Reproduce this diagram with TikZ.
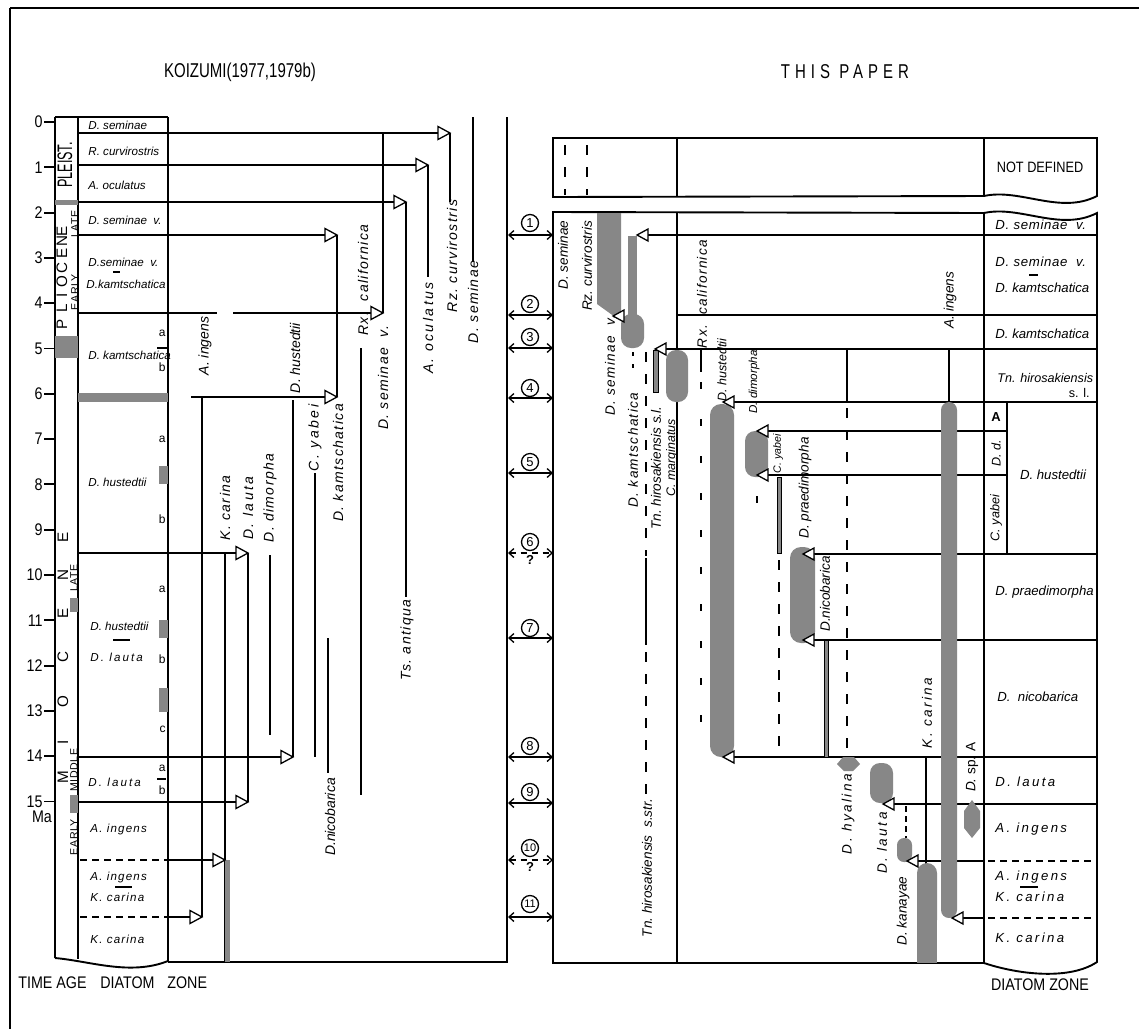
\documentclass[tikz,border=0pt]{standalone}
\usepackage{fontspec}
\setmainfont{Liberation Sans}
\newfontfamily\lsp[LetterSpace=10]{Liberation Sans}
\newfontfamily\lss[LetterSpace=5]{Liberation Sans}
\newfontfamily\lspw[LetterSpace=18]{Liberation Sans}
\newfontfamily\ttl[FakeStretch=0.85]{Liberation Sans}
\newfontfamily\ttla[FakeStretch=0.75]{Liberation Sans}
\newfontfamily\ttlw[FakeStretch=0.75,LetterSpace=25]{Liberation Sans}
\newfontfamily\plst[FakeStretch=0.6]{Liberation Sans}
\usetikzlibrary{arrows.meta}
\definecolor{barg}{RGB}{135,135,135}
\newcommand\triR[2]{\draw[tri] (#1,#2) -- ++(-12,-6.5) -- ++(0,13) -- cycle;}
\newcommand\triL[2]{\draw[tri] (#1,#2) -- ++(11,-6) -- ++(0,12) -- cycle;}
\tikzset{
  ln/.style={line width=0.95pt},
  tri/.style={draw=black,fill=white,line width=0.65pt,line join=miter},
  thinbar/.style={fill=barg,draw=black,line width=0.35pt},
  zdash/.style={line width=0.85pt,dash pattern=on 3.5pt off 2.5pt},
  vdash/.style={line width=0.95pt,dash pattern=on 5pt off 6pt},
  rxdash/.style={line width=0.95pt,dash pattern=on 3.5pt off 15pt},
  vl/.style={rotate=90,inner sep=0pt,font=\lsp\itshape\fontsize{7}{8}\selectfont},
  vlw/.style={rotate=90,inner sep=0pt,font=\lspw\itshape\fontsize{7}{8}\selectfont},
  vln/.style={rotate=90,inner sep=0pt,font=\itshape\fontsize{7}{8}\selectfont},
  vr/.style={rotate=90,inner sep=0pt,font=\itshape\fontsize{6.8}{8}\selectfont},
  vrs/.style={rotate=90,inner sep=0pt,font=\lsp\itshape\fontsize{6.8}{8}\selectfont},
  vrw/.style={rotate=90,inner sep=0pt,font=\lspw\itshape\fontsize{6.8}{8}\selectfont},
  zl/.style={anchor=west,inner sep=0pt,font=\itshape\fontsize{5.8}{7}\selectfont},
  zls/.style={anchor=west,inner sep=0pt,font=\lsp\itshape\fontsize{5.8}{7}\selectfont},
  zlw/.style={anchor=west,inner sep=0pt,font=\lspw\itshape\fontsize{5.8}{7}\selectfont},
  zr/.style={anchor=west,inner sep=0pt,font=\itshape\fontsize{6.6}{8}\selectfont},
  zrs/.style={anchor=west,inner sep=0pt,font=\lss\itshape\fontsize{6.6}{8}\selectfont},
  zrw/.style={anchor=west,inner sep=0pt,font=\lspw\itshape\fontsize{6.6}{8}\selectfont},
  sub/.style={anchor=east,inner sep=0pt,font=\fontsize{6}{7}\selectfont},
  num/.style={anchor=east,inner sep=0pt,font=\ttl\fontsize{8.4}{9}\selectfont},
  epl/.style={rotate=90,inner sep=0pt,font=\fontsize{7.6}{8}\selectfont},
  eps/.style={rotate=90,inner sep=0pt,font=\lss\fontsize{5.3}{6}\selectfont},
  circ/.style={circle,draw,line width=0.65pt,inner sep=0pt,minimum size=8.5pt,font=\fontsize{6.5}{7}\selectfont},
  dbl/.style={line width=0.65pt,{Straight Barb[length=2.5pt,width=4.5pt]}-{Straight Barb[length=2.5pt,width=4.5pt]}},
  bot/.style={anchor=west,inner sep=0pt,font=\ttl\fontsize{8.4}{9}\selectfont},
}
\begin{document}
\begin{tikzpicture}[x=0.5pt,y=-0.5pt]
\useasboundingbox (0,0) rectangle (1139,1029);
\fill[white] (0,0) rectangle (1139,1029);
% frame
\draw[ln] (10,8) -- (1139,8);
\draw[ln] (10,8) -- (10,1029);
% titles
\node[font=\ttla\fontsize{10}{11}\selectfont] (titleL) at (240,72) {KOIZUMI(1977,1979b)};
\node[font=\ttlw\fontsize{10}{11}\selectfont] (titleR) at (845,72) {THIS PAPER};

% ================= LEFT PANEL =================
\draw[ln] (78,133) -- (450,133);
\draw[ln] (78,165) -- (428,165);
\draw[ln] (78,202) -- (406,202);
\draw[ln] (78,235) -- (337,235);
\draw[ln] (78,313) -- (217,313);
\draw[ln] (233,313) -- (383,313);
\draw[ln] (191,397) -- (337,397);
\draw[ln] (78,553) -- (248,553);
\draw[ln] (78,757) -- (293,757);
\draw[ln] (78,802) -- (248,802);
\draw[zdash] (80,860) -- (168,860);
\draw[ln] (168,860) -- (225,860);
\draw[zdash] (80,917) -- (168,917);
\draw[ln] (168,917) -- (202,917);
% columns
\draw[ln] (55,117) -- (168,117);
\draw[ln] (55,117) -- (55,958);
\draw[ln] (78,117) -- (78,959);
\draw[ln] (168,117) -- (168,962);
\draw[ln] (55,958) .. controls (90,961) and (130,976) .. (168,961);
\draw[ln] (168,962) -- (507,962);
\draw[ln] (507,117) -- (507,963);
% gray patches
\fill[barg] (55,200) rectangle (78,205);
\fill[barg] (55,336) rectangle (78,358);
\fill[barg] (78,393) rectangle (168,402);
\fill[barg] (159,466) rectangle (168,484);
\fill[barg] (70,598) rectangle (78,612);
\fill[barg] (159,620) rectangle (168,638);
\fill[barg] (159,688) rectangle (168,712);
\fill[barg] (70,795) rectangle (78,813);
% time ticks
\foreach \t in {0,...,15} {
  \draw[ln] (44,{122+45.3*\t}) -- (55,{122+45.3*\t});
  \node[num] (tk\t) at (43,{122+45.3*\t}) {\t};
}
\node[font=\ttl\fontsize{8.4}{9}\selectfont,inner sep=0pt] (ma) at (42,817) {Ma};
% epochs
\node[rotate=90,inner sep=0pt,font=\plst\fontsize{10.5}{11}\selectfont] (pleist) at (65,165) {PLEIST.};
\foreach \l/\p [count=\i] in {P/324,L/308,I/295,O/282,C/268,E/253,N/241,E/231}
  \node[epl] (pl\i) at (62,\p) {\l};
\foreach \l/\p [count=\i] in {M/777,I/742,O/702,C/657,E/613,N/575,E/537}
  \node[epl] (mi\i) at (63,\p) {\l};
\node[eps] (ep1) at (75,224) {LATE};
\node[eps] (ep2) at (75,292) {EARLY};
\node[eps] (ep3) at (74,578) {LATE};
\node[eps] (ep4) at (74,770) {MIDDLE};
\node[eps] (ep5) at (74,837) {EARLY};
% subzones
\node[sub] (sa1) at (166,333) {a};
\draw[ln] (157,348) -- (168,348);
\node[sub] (sb1) at (166,367) {b};
\node[sub] (sa2) at (166,439) {a};
\node[sub] (sb2) at (166,519) {b};
\node[sub] (sa3) at (166,589) {a};
\node[sub] (sb3) at (166,659) {b};
\node[sub] (sc3) at (166,729) {c};
\node[sub] (sa4) at (166,768) {a};
\draw[ln] (157,779) -- (166,779);
\node[sub] (sb4) at (166,790) {b};
% left zone labels
\node[zl] (lz1) at (88,125) {D. seminae};
\node[zl] (lz2) at (88,151) {R. curvirostris};
\node[zl] (lz3) at (88,185) {A. oculatus};
\node[zl] (lz4) at (88,220) {D. seminae\ \ v.};
\node[zl] (lz5) at (88,262) {D.seminae\ \ v.};
\draw[line width=0.6pt] (113,272) -- (120,272);
\node[zl] (lz6) at (86,284) {D.kamtschatica};
\node[zl] (lz7) at (88,355) {D. kamtschatica};
\node[zl] (lz8) at (88,482) {D. hustedtii};
\node[zl] (lz9) at (90,626) {D. hustedtii};
\draw[line width=0.6pt] (113,640) -- (130,640);
\node[zlw] (lz10) at (90,657) {D. lauta};
\node[zlw] (lz11) at (88,782) {D. lauta};
\node[zls] (lz12) at (90,829) {A. ingens};
\node[zls] (lz13) at (90,877) {A. ingens};
\draw[line width=0.6pt] (115,887) -- (132,887);
\node[zls] (lz14) at (90,897) {K. carina};
\node[zls] (lz15) at (90,939) {K. carina};
% species ranges (left)
\draw[ln] (473,117) -- (473,262);
\draw[ln] (450,133) -- (450,202);
\draw[ln] (428,165) -- (428,277);
\draw[ln] (406,202) -- (406,597);
\draw[ln] (383,133) -- (383,313);
\draw[ln] (361,348) -- (361,795);
\draw[ln] (337,235) -- (337,397);
\draw[ln] (315,473) -- (315,757);
\draw[ln] (328,638) -- (328,773);
\draw[ln] (293,400) -- (293,757);
\draw[ln] (270,555) -- (270,735);
\draw[ln] (248,553) -- (248,802);
\draw[ln] (225,553) -- (225,962);
\fill[barg] (225,860) rectangle (230,962);
\draw[ln] (202,397) -- (202,917);
% arrowheads (left)
\triR{450}{133}
\triR{428}{165}
\triR{406}{202}
\triR{337}{235}
\triR{383}{313}
\triR{337}{397}
\triR{248}{553}
\triR{293}{757}
\triR{248}{802}
\triR{225}{860}
\triR{202}{917}
% species labels (left)
\node[vln] (lAing) at (205,346) {A.\ ingens};
\node[vl] (lKcar) at (225,508) {K.\ carina};
\node[vlw] (lDlau) at (248,508) {D.\ lauta};
\node[vl] (lDdim) at (270,498) {D.\ dimorpha};
\node[vln] (lDhus) at (295,358) {D.\ hustedtii};
\node[vlw] (lCyab) at (315,438) {C.\ yabei};
\node[vl] (lDkam) at (338,463) {D.\ kamtschatica};
\node[vln] (lDnic) at (330,817) {D.nicobarica};
\node[vl] (lDsev) at (383,378) {D.\ seminae\ \ v.};
\node[vl] (lRxca) at (363,280) {Rx.\ \ californica};
\node[vl] (lTsan) at (407,640) {Ts.\ antiqua};
\node[vlw] (lAocu) at (428,328) {A.\ oculatus};
\node[vl] (lRzcu) at (452,256) {Rz.\ curvirostris};
\node[vl] (lDsem) at (473,302) {D.\ seminae};

% ================= MIDDLE COLUMN =================
\draw[dbl] (508,235) -- (553,235);
\draw[dbl] (508,315) -- (553,315);
\draw[dbl] (508,348) -- (553,348);
\draw[dbl] (508,398) -- (553,398);
\draw[dbl] (508,473) -- (553,473);
\draw[dbl,dash pattern=on 3pt off 2.5pt] (508,553) -- (553,553);
\draw[dbl] (508,638) -- (553,638);
\draw[dbl] (508,757) -- (553,757);
\draw[dbl] (508,803) -- (553,803);
\draw[dbl,dash pattern=on 3pt off 2.5pt] (508,860) -- (553,860);
\draw[dbl] (508,917) -- (553,917);
\node[circ] (c1) at (530,223) {1};
\node[circ] (c2) at (530,304) {2};
\node[circ] (c3) at (530,337) {3};
\node[circ] (c4) at (530,388) {4};
\node[circ] (c5) at (530,462) {5};
\node[circ] (c6) at (530,542) {6};
\node[circ] (c7) at (530,628) {7};
\node[circ] (c8) at (530,746) {8};
\node[circ] (c9) at (530,792) {9};
\node[circ,font=\fontsize{5.5}{6}\selectfont] (c10) at (530,848) {10};
\node[circ,font=\fontsize{5.5}{6}\selectfont] (c11) at (530,904) {11};
\node[inner sep=0pt,font=\bfseries\fontsize{6.5}{7}\selectfont] (q6) at (530,560) {?};
\node[inner sep=0pt,font=\bfseries\fontsize{6.5}{7}\selectfont] (q10) at (530,867) {?};

% ================= RIGHT PANEL =================
\draw[ln] (553,138) -- (1097,138) -- (1097,196) .. controls (1060,215) and (1020,188) .. (984,196) -- (553,197) -- cycle;
\draw[ln] (677,138) -- (677,197);
\draw[ln] (984,138) -- (984,196);
\node[font=\ttl\fontsize{7.5}{8}\selectfont,inner sep=0pt] (nd) at (1040,167) {NOT DEFINED};
\draw[vdash] (565,145) -- (565,195);
\draw[vdash] (587,145) -- (587,195);
\draw[ln] (553,212) -- (984,213) .. controls (1020,205) and (1060,232) .. (1097,213) -- (1097,962) .. controls (1070,980) and (1020,975) .. (984,963) -- (553,963) -- cycle;
\draw[ln] (984,213) -- (984,963);
\draw[ln] (677,212) -- (677,963);
\draw[ln] (1007,402) -- (1007,554);
% zone lines
\draw[ln] (637,235) -- (1097,235);
\draw[ln] (677,315) -- (1097,315);
\draw[ln] (655,349) -- (1097,349);
\draw[ln] (723,402) -- (1097,402);
\draw[ln] (757,431) -- (1007,431);
\draw[ln] (757,475) -- (1007,475);
\draw[ln] (803,554) -- (1097,554);
\draw[ln] (803,640) -- (1097,640);
\draw[ln] (723,757) -- (1097,757);
\draw[ln] (883,804) -- (1097,804);
\draw[ln] (907,861) -- (984,861);
\draw[zdash] (988,861) -- (1097,861);
\draw[ln] (952,918) -- (984,918);
\draw[zdash] (988,918) -- (1097,918);
% thin / dashed ranges
\draw[line width=0.9pt,dash pattern=on 2pt off 4pt] (633,352) -- (633,372);
\draw[vdash] (646,352) -- (646,556);
\draw[ln] (646,558) -- (646,645);
\draw[vdash] (646,652) -- (646,795);
\draw[ln] (701,350) -- (701,372);
\draw[rxdash] (701,382) -- (701,735);
\draw[ln] (847,349) -- (847,402);
\draw[vdash] (847,408) -- (847,753);
\draw[ln] (949,349) -- (949,402);
\draw[ln] (926,757) -- (926,865);
\draw[line width=0.7pt,dash pattern=on 3pt off 2pt] (906,806) -- (906,838);
\draw[line width=1pt] (757,496) -- (757,503);
\draw[vdash] (779,560) -- (779,757);
\filldraw[thinbar] (653,350) rectangle (658,392);
\filldraw[thinbar] (777,477) rectangle (781,553);
\filldraw[thinbar] (824,640) rectangle (828,757);
% gray bars
\fill[barg] (597,213) -- (621,213) -- (621,312) -- (615,317) -- (597,304) -- cycle;
\fill[barg] (628,236) rectangle (637,318);
\fill[barg,rounded corners=5pt] (621,314) rectangle (644,348);
\fill[barg,rounded corners=5pt] (666,350) rectangle (688,402);
\fill[barg,rounded corners=5.5pt] (710,404) rectangle (734,757);
\fill[barg,rounded corners=5pt] (745,431) rectangle (768,477);
\fill[barg,rounded corners=5.5pt] (790,547) rectangle (815,643);
\fill[barg] (837,764) -- (843,757) -- (854,757) -- (860,764) -- (853,771) -- (844,771) -- cycle;
\fill[barg,rounded corners=5pt] (870,763) rectangle (893,803);
\fill[barg,rounded corners=3.5pt] (897,838) rectangle (912,862);
\fill[barg,rounded corners=5pt] (917,863) rectangle (937,930);
\fill[barg] (917,885) rectangle (937,963);
\fill[barg,rounded corners=4pt] (941,402) rectangle (957,918);
\fill[barg] (972,800) -- (980,811) -- (980,828) -- (972,838) -- (964,828) -- (964,811) -- cycle;
% arrowheads (right)
\triL{613}{316}
\triL{637}{235}
\triL{655}{349}
\triL{723}{402}
\triL{757}{431}
\triL{757}{475}
\triL{803}{554}
\triL{803}{640}
\triL{723}{757}
\triL{883}{804}
\triL{907}{861}
\triL{952}{918}
% right zone labels
\node[zrs] (rz1) at (995,225) {D.\ seminae\ \ v.};
\node[zrs] (rz2) at (995,262) {D.\ seminae\ \ v.};
\draw[line width=0.6pt] (1029,275) -- (1038,275);
\node[zr] (rz3) at (995,288) {D.\ kamtschatica};
\node[zr] (rz4) at (995,334) {D.\ kamtschatica};
\node[zr,font=\itshape\fontsize{6.3}{8}\selectfont] (rz5) at (997,378) {Tn. hirosakiensis};
\node[zr,anchor=east,font=\fontsize{6.3}{8}\selectfont] (rz6) at (1090,393) {s. l.};
\node[inner sep=0pt,font=\bfseries\fontsize{6.5}{8}\selectfont] (rzA) at (996,417) {A};
\node[rotate=90,inner sep=0pt,font=\itshape\fontsize{6.3}{8}\selectfont] (rzDd) at (996,453) {D. d.};
\node[rotate=90,inner sep=0pt,font=\itshape\fontsize{6.3}{8}\selectfont] (rzCy) at (996,518) {C. yabei};
\node[zr,anchor=center] (rz7) at (1053,475) {D.\ hustedtii};
\node[zr] (rz8) at (995,592) {D.\ praedimorpha};
\node[zr] (rz9) at (997,697) {D.\ \ nicobarica};
\node[zrw] (rz10) at (995,782) {D.\ lauta};
\node[zrw] (rz11) at (995,829) {A.\ ingens};
\node[zrw] (rz12) at (995,877) {A.\ ingens};
\draw[line width=0.6pt] (1020,887) -- (1038,887);
\node[zrw] (rz13) at (995,897) {K.\ carina};
\node[zrw] (rz14) at (995,938) {K.\ carina};
% right species labels
\node[vr] (rDsem) at (563,255) {D.\ seminae};
\node[vr] (rRzcu) at (587,266) {Rz.\ curvirostris};
\node[vrs] (rDsev) at (610,365) {D.\ seminae\ \ v.};
\node[vrs] (rDkam) at (633,450) {D.\ kamtschatica};
\node[vr] (rTnsl) at (656,468) {Tn.\ hirosakiensis s.l.};
\node[vr,font=\itshape\fontsize{6.2}{8}\selectfont] (rCmar) at (672,458) {C.\ marginatus};
\node[vr] (rTnss) at (647,868) {Tn.\ hirosakiensis\ \ s.str.};
\node[vrs] (rRxca) at (702,294) {Rx.\ \ californica};
\node[vr,font=\itshape\fontsize{6.2}{8}\selectfont] (rDhus) at (722,370) {D.\ hustedtii};
\node[vr,font=\itshape\fontsize{5.8}{8}\selectfont] (rDdim) at (754,382) {D.\ dimorpha};
\node[vr,font=\itshape\fontsize{5.3}{8}\selectfont] (rCyab) at (778,454) {C.\ yabei};
\node[vr] (rDpra) at (805,488) {D.\ praedimorpha};
\node[vr] (rDnic) at (825,594) {D.nicobarica};
\node[vr] (rAing) at (950,300) {A.\ ingens};
\node[vrw] (rKcar) at (927,713) {K.\ carina};
\node[vrw] (rDhya) at (848,814) {D.\ hyalina};
\node[vrw] (rDlau) at (882,843) {D.\ lauta};
\node[vr] (rDkan) at (903,911) {D.\ kanayae};
\node[rotate=90,inner sep=0pt,font=\fontsize{6.8}{8}\selectfont] (rDspA) at (972,767) {\textit{D.} sp. A};

% bottom captions
\node[bot] (bTA) at (18,983) {TIME AGE};
\node[bot] (bDI) at (100,983) {DIATOM};
\node[bot] (bZO) at (167,983) {ZONE};
\node[bot,anchor=center] (bDZ) at (1040,985) {DIATOM ZONE};
\end{tikzpicture}
\end{document}
